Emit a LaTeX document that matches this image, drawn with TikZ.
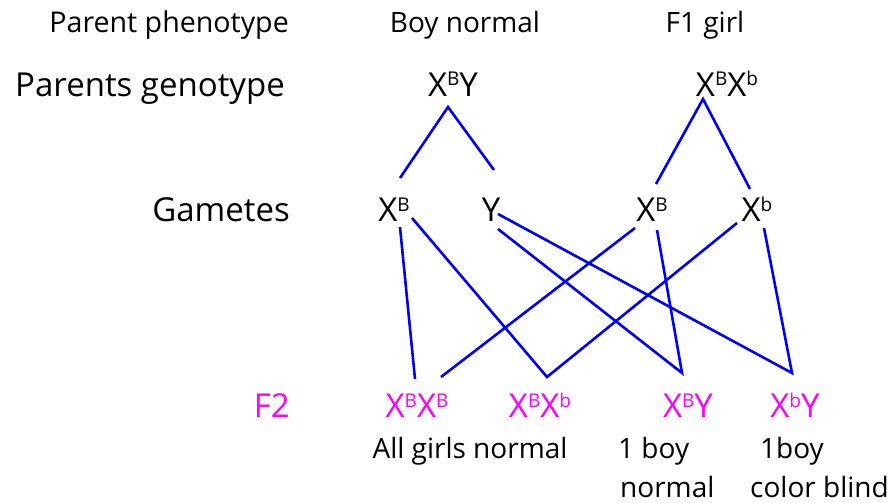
\documentclass[tikz,border=0pt]{standalone}
\usepackage{fontspec}
\setmainfont{Open Sans}
\usepackage{tikz}

\definecolor{fpink}{RGB}{255,0,255}
\definecolor{lblue}{RGB}{0,0,255}
\newcommand{\allele}[1]{\raisebox{10pt}{\fontsize{19}{19}\selectfont #1}}

\begin{document}
\begin{tikzpicture}[x=1pt,y=-1pt,
  big/.style={inner sep=0pt,anchor=base,font=\fontsize{33}{40}\selectfont},
  small/.style={inner sep=0pt,anchor=base,font=\fontsize{28}{34}\selectfont},
  cross/.style={lblue,line width=2.6pt}]
\useasboundingbox (0,0) rectangle (895,503);

% row labels
\node[small,anchor=base east,font=\fontsize{28.6}{34}\selectfont] (lphen) at (289,33) {Parent phenotype};
\node[big,anchor=base east] (lgeno) at (285,97) {Parents genotype};
\node[big,anchor=base east] (lgam) at (290,221) {Gametes};
\node[big,anchor=base east,text=fpink] (lf2) at (290,417) {F2};

% parents
\node[small] (boy) at (465,33) {Boy normal};
\node[small] (girl) at (705,33) {F1 girl};
\node[big] (pm) at (453,96) {X\allele{B}Y};
\node[big] (pf) at (727,96) {X\allele{B}X\allele{b}};

% gametes
\node[big] (gXBm) at (394,221) {X\allele{B}};
\node[big] (gY) at (491,221) {Y};
\node[big] (gXBf) at (652,221) {X\allele{B}};
\node[big] (gXbf) at (757,221) {X\allele{b}};

% F2 offspring
\node[big,text=fpink] (fBB) at (417,417) {X\allele{B}X\allele{B}};
\node[big,text=fpink] (fBb) at (540,417) {X\allele{B}X\allele{b}};
\node[big,text=fpink] (fBY) at (688,417) {X\allele{B}Y};
\node[big,text=fpink] (fbY) at (795,417) {X\allele{b}Y};

\node[small] (girls) at (470,458) {All girls normal};
\node[small,anchor=base west] (boyn1) at (618,458) {1 boy};
\node[small,anchor=base west] (boyn2) at (620,497) {normal};
\node[small,anchor=base west] (boyc1) at (760,458) {1boy};
\node[small,anchor=base west] (boyc2) at (750,497) {color blind};

% parents to gametes
\draw[cross] ([shift={(6,-43)}]gXBm.base) -- ([shift={(-5,11)}]pm.base) -- ([shift={(3,-51)}]gY.base);
\draw[cross] ([shift={(4,-37)}]gXBf.base) -- ([shift={(-24,3)}]pf.base) -- ([shift={(-7,-32)}]gXbf.base);

% gametes to F2
\draw[cross] ([shift={(6,6)}]gXBm.base) -- ([shift={(-2,-38)}]fBB.base);
\draw[cross] ([shift={(18,-3)}]gXBm.base) -- ([shift={(7,-40)}]fBb.base) -- ([shift={(-20,2)}]gXbf.base);
\draw[cross] ([shift={(-17,7)}]gXBf.base) -- ([shift={(24,-40)}]fBB.base);
\draw[cross] ([shift={(7,8)}]gY.base) -- ([shift={(-6,-44)}]fBY.base) -- ([shift={(5,9)}]gXBf.base);
\draw[cross] ([shift={(7,-7)}]gY.base) -- ([shift={(-3,-44)}]fbY.base) -- ([shift={(7,7)}]gXbf.base);
\end{tikzpicture}
\end{document}
